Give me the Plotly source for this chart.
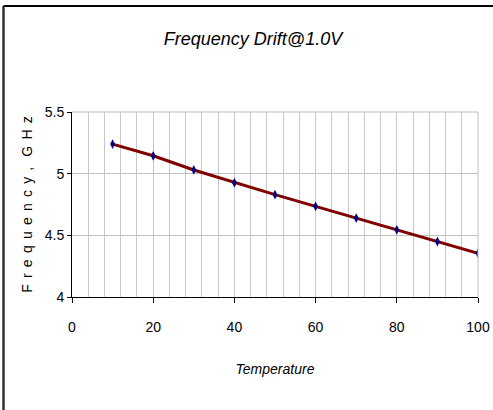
import plotly.graph_objects as go

temperature = [10, 20, 30, 40, 50, 60, 70, 80, 90, 100]
frequency = [5.24, 5.145, 5.03, 4.927, 4.83, 4.735, 4.64, 4.545, 4.45, 4.355]
x_ticks = [0, 20, 40, 60, 80, 100]
y_ticks = [4, 4.5, 5, 5.5]
y_tick_text = ["4", "4.5", "5", "5.5"]

FONT = "Liberation Sans, Arial, sans-serif"

L, R, T, B = 72, 15, 112, 113
W, H = 493, 410
pw = W - L - R
ph = H - T - B

def px(x):
    return (x - L) / pw

def py(y):
    return (H - B - y) / ph

gap = " \u2006"
ytitle = gap.join(list("Frequency,")) + gap + " " + gap.join(list("GHz"))

fig = go.Figure()
fig.add_trace(go.Scatter(
    x=temperature, y=frequency, mode="lines+markers",
    line=dict(color="#800000", width=3),
    marker=dict(symbol="diamond-tall", color="#000080", size=7,
                line=dict(width=0)),
    showlegend=False,
))

fig.update_layout(
    width=W, height=H,
    margin=dict(l=L, r=R, t=T, b=B, autoexpand=False),
    paper_bgcolor="white", plot_bgcolor="white",
    font=dict(family=FONT, color="black", size=14),
    title=dict(text="<i>Frequency Drift@1.0V</i>", x=253 / W, xanchor="center",
               y=1 - 39 / H, yanchor="middle",
               font=dict(family=FONT, size=18, color="black")),
    xaxis=dict(range=[0, 100], tickvals=x_ticks, automargin=False,
               ticks="outside", ticklen=5, tickcolor="black",
               showline=True, linecolor="black", linewidth=1,
               showgrid=False, zeroline=False,
               tickfont=dict(size=14), ticklabelstandoff=12,
               title=dict(text="<i>Temperature</i>", font=dict(size=14), standoff=30),
               minor=dict(dtick=4, showgrid=True, gridcolor="#c8c8c8", gridwidth=1, tick0=0)),
    yaxis=dict(range=[4, 5.5], tickvals=y_ticks, ticktext=y_tick_text, automargin=False,
               ticks="outside", ticklen=4, tickcolor="black",
               showline=True, linecolor="black", linewidth=1,
               showgrid=True, gridcolor="#c0c0c0", gridwidth=1,
               zeroline=False, tickfont=dict(size=14),
               title=dict(text=ytitle, font=dict(size=14), standoff=8)),
    shapes=[
        dict(type="line", xref="paper", yref="paper", x0=px(3.5), x1=px(493), y0=py(6), y1=py(6),
             line=dict(color="black", width=2)),
        dict(type="line", xref="paper", yref="paper", x0=px(3.5), x1=px(3.5), y0=py(6), y1=py(410),
             line=dict(color="#333333", width=2.5)),
        dict(type="line", xref="paper", yref="paper", x0=0, x1=1, y0=1, y1=1,
             line=dict(color="#c0c0c0", width=1)),
        dict(type="line", xref="paper", yref="paper", x0=1, x1=1, y0=0, y1=1,
             line=dict(color="#c0c0c0", width=1)),
    ],
)

fig.write_html("out.html", config={"displayModeBar": False},
               post_script="document.body.style.margin='0';document.body.style.overflow='hidden';")
